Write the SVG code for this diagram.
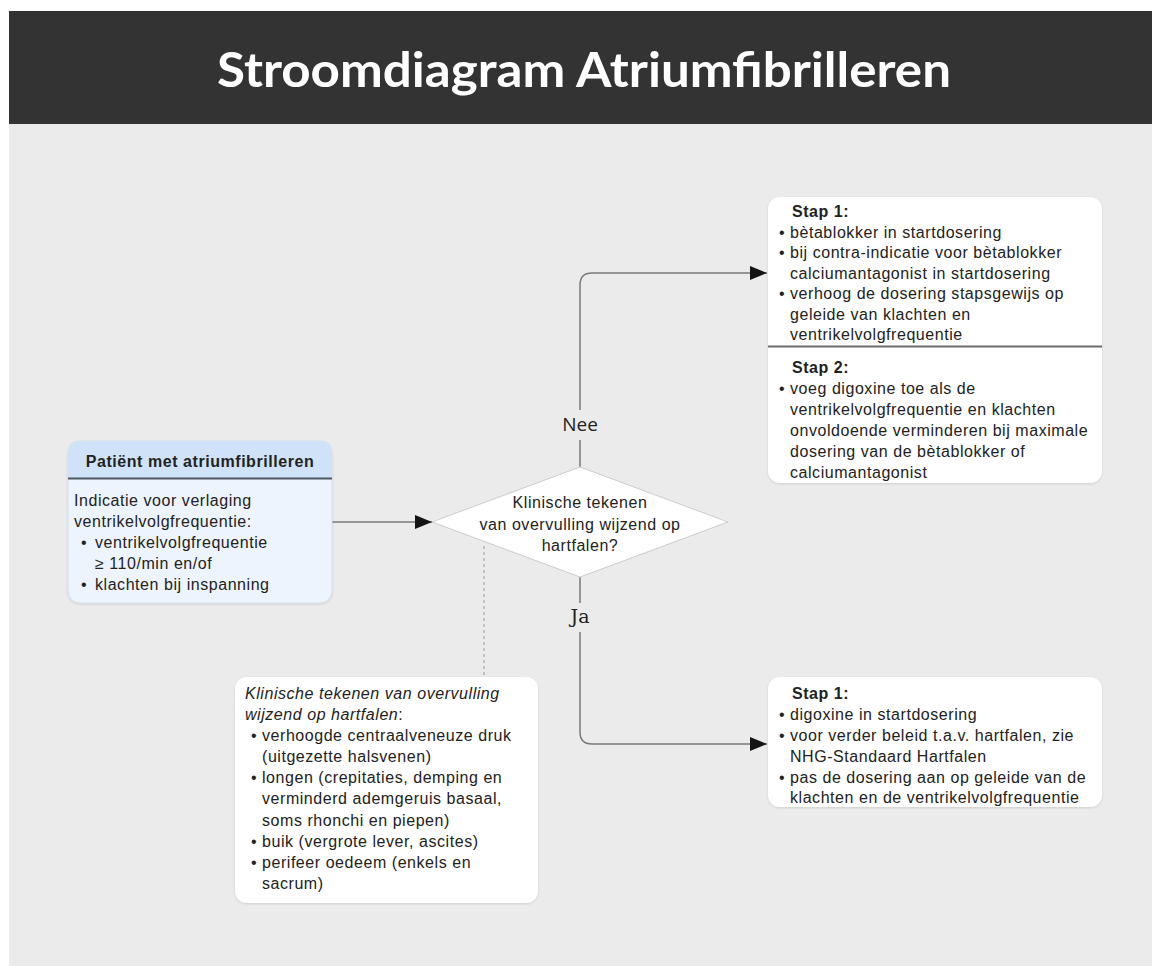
<svg xmlns="http://www.w3.org/2000/svg" width="1152" height="966" viewBox="0 0 1152 966">
  <style>
    .t { font-family: "Liberation Sans", Arial, sans-serif; font-size: 16px; letter-spacing: 0.55px; fill: #222; }
    .b { font-weight: bold; }
    .i { font-style: italic; }
    .mid { text-anchor: middle; }
    .box { fill: #ffffff; filter: url(#shadow); }
    .conn { fill: none; stroke: #7a7a7a; stroke-width: 1.5; }
    .lbl { font-size: 19px; fill: #222; text-anchor: middle; }
  </style>
  <defs>
    <marker id="arrow" markerUnits="userSpaceOnUse" markerWidth="17" markerHeight="14" refX="17" refY="7" orient="auto">
      <path d="M0,0 L17,7 L0,14 Z" fill="#141414"/>
    </marker>
    <filter id="shadow" x="-5%" y="-5%" width="110%" height="115%">
      <feDropShadow dx="0" dy="1" stdDeviation="1.2" flood-color="#000" flood-opacity="0.12"/>
    </filter>
  </defs>

  <!-- page background and title bar -->
  <rect x="0" y="0" width="1152" height="966" fill="#ffffff"/>
  <rect x="9" y="11" width="1143" height="955" fill="#ebebeb"/>
  <rect x="9" y="11" width="1143" height="113" fill="#333333"/>
  <text x="584" y="87" text-anchor="middle" textLength="734" lengthAdjust="spacingAndGlyphs" font-family="Lato, 'Open Sans', sans-serif" font-weight="bold" font-size="47" fill="#ffffff">Stroomdiagram Atriumfibrilleren</text>

  <!-- connectors -->
  <g id="connectors">
    <line class="conn" x1="332" y1="522" x2="432" y2="522" marker-end="url(#arrow)"/>
    <path class="conn" d="M580,467 V285 Q580,273 592,273 H767" marker-end="url(#arrow)"/>
    <path class="conn" d="M580,577 V732 Q580,744 592,744 H767" marker-end="url(#arrow)"/>
    <line x1="484" y1="546" x2="484" y2="677" stroke="#9a9a9a" stroke-width="1" stroke-dasharray="3,3"/>
    <g id="label-nee">
      <rect x="562" y="410" width="36" height="30" fill="#ebebeb"/>
      <text class="lbl" x="580" y="431" font-family="'Open Sans', Lato, sans-serif">Nee</text>
    </g>
    <g id="label-ja">
      <rect x="568" y="603" width="24" height="29" fill="#ebebeb"/>
      <text class="lbl" x="580" y="623" font-family="'DejaVu Serif', 'Liberation Serif', serif" font-size="18">Ja</text>
    </g>
  </g>

  <!-- start node -->
  <g id="node-patient">
    <rect x="68" y="441" width="264" height="162" rx="12" fill="#edf4fd" stroke="#d6e0ea" stroke-width="1" filter="url(#shadow)"/>
    <path d="M68,478 V453 Q68,441 80,441 H320 Q332,441 332,453 V478 Z" fill="#cfe2f8"/>
    <line x1="68" y1="478.5" x2="332" y2="478.5" stroke="#4f5a66" stroke-width="2"/>
    <text class="t b mid" x="200" y="467">Patiënt met atriumfibrilleren</text>
    <text class="t" x="74" y="506">Indicatie voor verlaging</text>
    <text class="t" x="74" y="527">ventrikelvolgfrequentie:</text>
    <text class="t" x="81" y="548">•</text>
    <text class="t" x="95" y="548">ventrikelvolgfrequentie</text>
    <text class="t" x="95" y="569">≥ 110/min en/of</text>
    <text class="t" x="81" y="590">•</text>
    <text class="t" x="95" y="590">klachten bij inspanning</text>
  </g>

  <!-- decision -->
  <g id="node-decision">
    <polygon points="580,467 728,522 580,577 432,522" fill="#ffffff" stroke="#cccccc" stroke-width="1"/>
    <text class="t mid" x="580" y="508">Klinische tekenen</text>
    <text class="t mid" x="580" y="530">van overvulling wijzend op</text>
    <text class="t mid" x="580" y="551">hartfalen?</text>
  </g>

  <!-- treatment without heart failure -->
  <g id="node-nee">
    <rect class="box" x="768" y="197" width="334" height="286" rx="12"/>
    <line x1="768" y1="346.5" x2="1102" y2="346.5" stroke="#6b6b6b" stroke-width="2"/>
    <text class="t b" x="792" y="217">Stap 1:</text>
    <text class="t" x="779" y="237.5">•</text>
    <text class="t" x="790" y="237.5">bètablokker in startdosering</text>
    <text class="t" x="779" y="258">•</text>
    <text class="t" x="790" y="258">bij contra-indicatie voor bètablokker</text>
    <text class="t" x="790" y="278.5">calciumantagonist in startdosering</text>
    <text class="t" x="779" y="299">•</text>
    <text class="t" x="790" y="299">verhoog de dosering stapsgewijs op</text>
    <text class="t" x="790" y="319.5">geleide van klachten en</text>
    <text class="t" x="790" y="340">ventrikelvolgfrequentie</text>
    <text class="t b" x="792" y="373">Stap 2:</text>
    <text class="t" x="779" y="394">•</text>
    <text class="t" x="790" y="394">voeg digoxine toe als de</text>
    <text class="t" x="790" y="415">ventrikelvolgfrequentie en klachten</text>
    <text class="t" x="790" y="436">onvoldoende verminderen bij maximale</text>
    <text class="t" x="790" y="457">dosering van de bètablokker of</text>
    <text class="t" x="790" y="478">calciumantagonist</text>
  </g>

  <!-- treatment with heart failure -->
  <g id="node-ja">
    <rect class="box" x="768" y="677" width="334" height="130" rx="12"/>
    <text class="t b" x="792" y="699">Stap 1:</text>
    <text class="t" x="779" y="720">•</text>
    <text class="t" x="790" y="720">digoxine in startdosering</text>
    <text class="t" x="779" y="741">•</text>
    <text class="t" x="790" y="741">voor verder beleid t.a.v. hartfalen, zie</text>
    <text class="t" x="790" y="762">NHG-Standaard Hartfalen</text>
    <text class="t" x="779" y="783">•</text>
    <text class="t" x="790" y="783">pas de dosering aan op geleide van de</text>
    <text class="t" x="790" y="803">klachten en de ventrikelvolgfrequentie</text>
  </g>

  <!-- annotation -->
  <g id="note-overvulling">
    <rect class="box" x="235" y="677" width="303" height="226" rx="12"/>
    <text class="t i" x="245" y="699">Klinische tekenen van overvulling</text>
    <text class="t" x="245" y="720"><tspan class="i">wijzend op hartfalen</tspan>:</text>
    <text class="t" x="251" y="741">•</text>
    <text class="t" x="262" y="741">verhoogde centraalveneuze druk</text>
    <text class="t" x="262" y="762">(uitgezette halsvenen)</text>
    <text class="t" x="251" y="783">•</text>
    <text class="t" x="262" y="783">longen (crepitaties, demping en</text>
    <text class="t" x="262" y="804">verminderd ademgeruis basaal,</text>
    <text class="t" x="262" y="825.5">soms rhonchi en piepen)</text>
    <text class="t" x="251" y="846.5">•</text>
    <text class="t" x="262" y="846.5">buik (vergrote lever, ascites)</text>
    <text class="t" x="251" y="867.5">•</text>
    <text class="t" x="262" y="867.5">perifeer oedeem (enkels en</text>
    <text class="t" x="262" y="888.5">sacrum)</text>
  </g>
</svg>
